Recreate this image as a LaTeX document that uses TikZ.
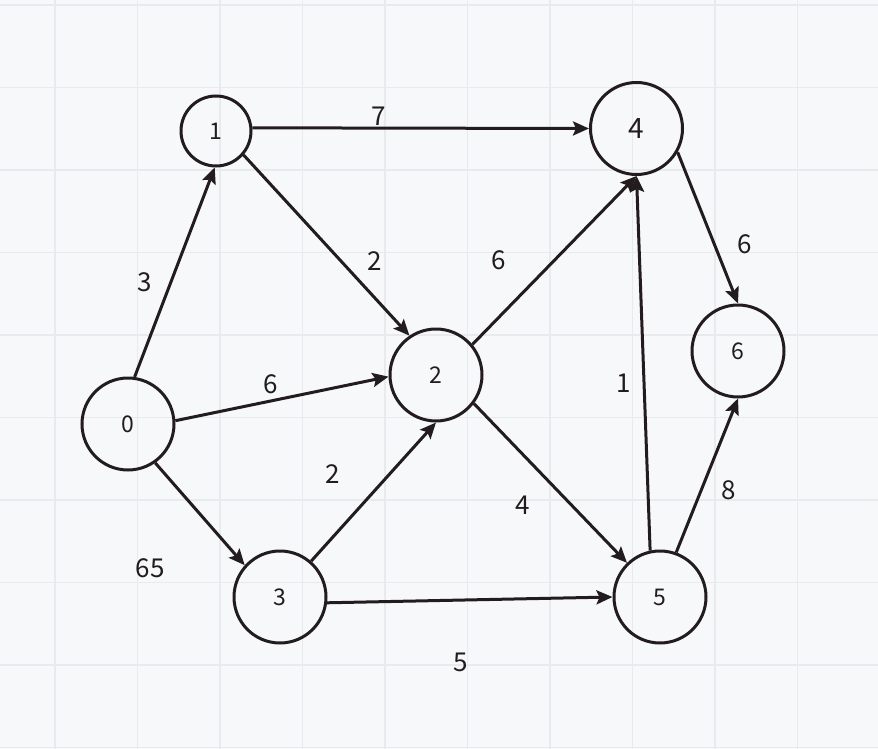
\documentclass[tikz,border=0pt]{standalone}
\usepackage{fontspec}
\setmainfont{Noto Sans CJK SC}
\usetikzlibrary{arrows.meta}
\definecolor{ink}{HTML}{221C1F}
\definecolor{bg}{HTML}{F7F8FA}
\definecolor{gridc}{HTML}{E8EAEE}
\tikzset{
  vtx/.style={circle,draw=ink,line width=3pt,minimum size=92pt,inner sep=0pt,text=ink,font=\fontsize{23}{26}\selectfont},
  small/.style={minimum size=70pt},
  edge/.style={draw=ink,line width=3pt,-{Stealth[length=16pt,width=14pt,inset=3pt]}},
  lbl/.style={text=ink,font=\fontsize{26}{30}\selectfont,inner sep=0pt}
}
\begin{document}
\begin{tikzpicture}[x=1pt,y=-1pt]
\fill[bg] (0,0) rectangle (878,749);
\useasboundingbox (0,0) rectangle (878,749);
\foreach \i in {0,...,9} {
  \draw[gridc,line width=1.2pt] ({55+82.5*\i},0) -- ({55+82.5*\i},749);
  \draw[gridc,line width=1.2pt] (0,{5+82.5*\i}) -- (878,{5+82.5*\i});
}
\node[vtx] (n0) at (128,424) {0};
\node[vtx,small] (n1) at (216,131) {1};
\node[vtx] (n2) at (436,375) {2};
\node[vtx] (n3) at (280,597) {3};
\node[vtx,font=\fontsize{28}{30}\selectfont] (n4) at (636.5,128.5) {4};
\node[vtx] (n5) at (660,597) {5};
\node[vtx] (n6) at (738,351) {6};

\draw[edge] (n0.82) -- (n1.268);
\draw[edge] (n1.5) -- (n4.180);
\draw[edge] (n1.-41) -- (n2.124);
\draw[edge] (n0.4) -- (n2.182);
\draw[edge] (n0.-55) -- (n3.138);
\draw[edge] (n3.49) -- (n2.270);
\draw[edge] (n3.-7) -- (n5.180);
\draw[edge] (n2.40) -- (n4.270);
\draw[edge] (n2.-37) -- (n5.134);
\draw[edge] (n5.102) -- (n4.270);
\draw[edge] (n4.-30) -- (n6.90);
\draw[edge] (n5.70) -- (n6.270);

\node[lbl] (l14) at (379,116) {7};
\node[lbl] (l01) at (145,282) {3};
\node[lbl] (l12) at (375,261) {2};
\node[lbl] (l24) at (499,260) {6};
\node[lbl] (l46) at (745,244) {6};
\node[lbl] (l02) at (271,384) {6};
\node[lbl] (l54) at (624,383) {1};
\node[lbl] (l32) at (333,474) {2};
\node[lbl] (l25) at (523,505) {4};
\node[lbl] (l56) at (729,490) {8};
\node[lbl] (l03) at (150,568) {65};
\node[lbl] (l35) at (461,662) {5};
\end{tikzpicture}
\end{document}
